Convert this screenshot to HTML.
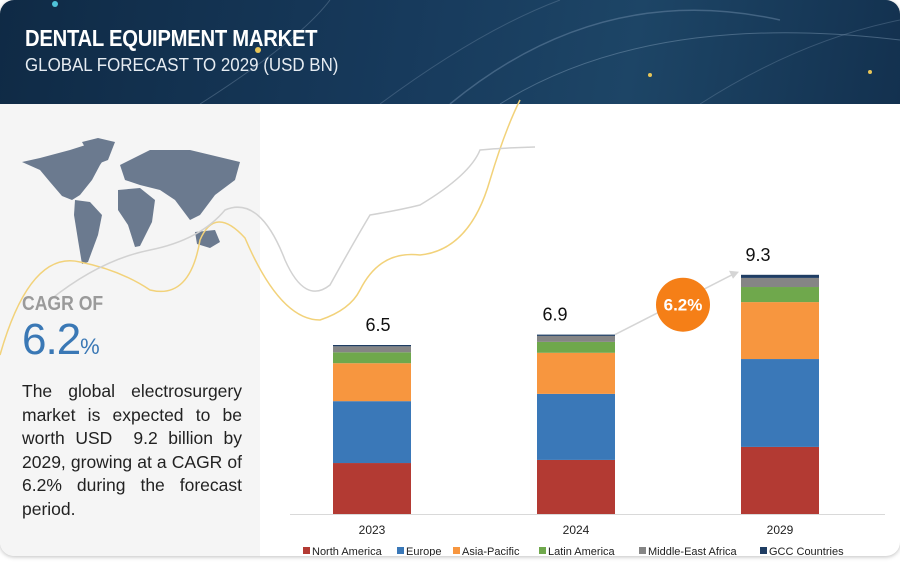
<!DOCTYPE html>
<html><head><meta charset="utf-8"><style>
*{margin:0;padding:0;box-sizing:border-box}
body{width:900px;height:562px;background:#fff;font-family:"Liberation Sans",sans-serif;position:relative;overflow:hidden}
#card{position:absolute;left:0;top:0;width:900px;height:556px;border-radius:14px;overflow:hidden;background:#fff;box-shadow:0 1px 4px rgba(0,0,0,.25)}
#header{position:absolute;left:0;top:0;width:900px;height:104px;background:linear-gradient(100deg,#0f2a45 0%,#173a5c 45%,#1d4566 70%,#13314f 100%)}
#title{position:absolute;left:25px;top:25px;color:#fff;font-size:23px;font-weight:bold;transform:scaleX(.88);transform-origin:left;letter-spacing:-.3px;white-space:nowrap}
#subtitle{position:absolute;left:25px;top:55px;color:#e6ecf2;font-size:18px;transform:scaleX(.94);transform-origin:left;white-space:nowrap}
#left{position:absolute;left:0;top:104px;width:260px;height:452px;background:#f5f5f5}
#cagr-of{position:absolute;left:22px;top:293px;font-size:20px;font-weight:bold;color:#9a9a9a;transform:scaleX(.88);transform-origin:left}
#cagr-val{position:absolute;left:22px;top:315px;font-size:44px;color:#3a78b5;letter-spacing:-1px}
#cagr-val span{font-size:22px;letter-spacing:0}
#desc{position:absolute;left:22px;top:380px;width:220px;font-size:17.5px;line-height:23.5px;color:#222;text-align:justify}
svg{position:absolute;left:0;top:0}
</style></head><body>
<div id="card">
<div id="header">
<svg width="900" height="104">
<path d="M450 104 Q600 -20 780 20" stroke="#6c8aa8" stroke-width="1.5" fill="none" opacity=".5"/>
<path d="M500 104 Q650 10 900 40" stroke="#8fa9c2" stroke-width="1" fill="none" opacity=".4"/>
<path d="M200 104 Q300 40 330 0" stroke="#7891ab" stroke-width="1" fill="none" opacity=".4"/>
<path d="M380 104 Q480 30 560 0" stroke="#7891ab" stroke-width="1" fill="none" opacity=".35"/>
<path d="M700 104 Q800 40 900 20" stroke="#7891ab" stroke-width="1" fill="none" opacity=".35"/>
<circle cx="258" cy="50" r="3" fill="#e8c558"/><circle cx="55" cy="4" r="3" fill="#4fc3d9"/>
<circle cx="650" cy="75" r="2" fill="#e8c558"/><circle cx="870" cy="72" r="2" fill="#e8c558"/>
</svg>
<div id="title">DENTAL EQUIPMENT MARKET</div>
<div id="subtitle">GLOBAL FORECAST TO 2029 (USD BN)</div>
</div>
<div id="left"></div>
<svg width="900" height="556">
<g fill="#6b7a8f">
<path d="M22 162 L40 158 L70 150 L95 142 L110 150 L100 165 L92 180 L80 195 L72 200 L62 196 L50 182 L40 170 Z"/>
<path d="M82 142 L98 138 L115 142 L108 160 L95 165 Z"/>
<path d="M75 200 L90 202 L102 215 L98 235 L88 262 L82 264 L78 240 L74 215 Z"/>
<path d="M120 165 L150 150 L190 150 L240 162 L235 180 L215 195 L200 215 L190 220 L175 200 L160 190 L140 185 L125 180 Z"/>
<path d="M118 190 L140 188 L155 200 L152 222 L140 246 L135 247 L128 225 L118 210 Z"/>
<path d="M195 232 L215 230 L220 242 L210 248 L197 244 Z"/>
</g>
<path d="M0 355 Q30 250 80 262 Q120 270 150 290 Q190 300 200 240 Q215 205 245 238 Q280 320 320 320 Q350 310 360 290 Q380 250 420 255 Q470 250 490 180 Q505 130 520 100" stroke="#f2d27a" stroke-width="1.5" fill="none"/>
<path d="M50 300 Q100 260 150 250 Q200 240 225 210 Q260 195 285 260 Q305 305 330 285 Q355 240 370 215 Q400 210 420 205 Q470 175 480 150 Q500 148 535 147" stroke="#d2d2d2" stroke-width="1.5" fill="none"/>
</svg>
<div id="cagr-of">CAGR OF</div>
<div id="cagr-val">6.2<span>%</span></div>
<div id="desc">The global electrosurgery market is expected to be worth USD&nbsp; 9.2 billion by 2029, growing at a CAGR of 6.2% during the forecast period.</div>
<svg id="chart" width="900" height="562"></svg>
</div>
<script>
const years=["2023","2024","2029"];
const totals=["6.5","6.9","9.3"];
const seriesNames=["North America","Europe","Asia-Pacific","Latin America","Middle-East Africa","GCC Countries"];
const northAmerica=[1.96,2.08,2.58];
const europe=[2.38,2.54,3.38];
const asiaPacific=[1.46,1.58,2.19];
const latinAmerica=[0.42,0.42,0.58];
const middleEastAfrica=[0.23,0.23,0.35];
const gccCountries=[0.05,0.05,0.12];
const cagrText="6.2%";

const series=[northAmerica,europe,asiaPacific,latinAmerica,middleEastAfrica,gccCountries];
const colors=["#b33a33","#3a78b8","#f7963f","#6fa84c","#858585","#1f3d63"];
const labelShift=[6,-21,-22];
const svg=document.getElementById('chart');
const NS="http://www.w3.org/2000/svg";
const baseY=514,pxPerUnit=26,barW=78,firstX=333,stepX=204;
const y=v=>baseY-v*pxPerUnit;
const xPos=i=>firstX+i*stepX;
function mk(t,a){const e=document.createElementNS(NS,t);for(const k in a)e.setAttribute(k,a[k]);svg.appendChild(e);return e;}
const ax=mk('line',{x1:290,x2:885,y1:baseY+0.5,y2:baseY+0.5,stroke:'#d9d9d9','stroke-width':1});


const tops=[];
years.forEach((yr,i)=>{
  let cum=0;
  series.forEach((s,j)=>{
    const r=mk('rect',{x:xPos(i),y:y(cum+s[i]),width:barW,height:s[i]*pxPerUnit,fill:colors[j]});
    
    
    cum+=s[i];
  });
  tops.push(y(cum));
  const t=mk('text',{x:xPos(i)+barW/2,y:baseY+20,'text-anchor':'middle','font-size':12,fill:'#222'});
  t.textContent=yr;
  
  
  const v=mk('text',{x:xPos(i)+barW/2+labelShift[i],y:y(cum)-14,'text-anchor':'middle','font-size':18,fill:'#111'});
  v.textContent=totals[i];
  
  
});
const ar=mk('line',{x1:xPos(1)+barW,y1:tops[1],x2:xPos(2)-5,y2:tops[2]-2,stroke:'#d5d5d5','stroke-width':1.5});


const ah=mk('polygon',{points:`${xPos(2)-2},${tops[2]-3} ${xPos(2)-12},${tops[2]-4} ${xPos(2)-8},${tops[2]+4}`,fill:'#d5d5d5'});


const cx=(xPos(1)+barW+xPos(2))/2+5, cy=(tops[1]+tops[2])/2;
const c=mk('circle',{cx:cx,cy:cy,r:27,fill:'#f57f17'});


const ct=mk('text',{x:cx,y:cy+6,'text-anchor':'middle','font-size':17,'font-weight':'bold',fill:'#fff'});
ct.textContent=cagrText;


const legX=[303,397,453,539,639,760];
seriesNames.forEach((n,j)=>{
  const g=document.createElementNS(NS,'g');svg.appendChild(g);
  
  
  const r=document.createElementNS(NS,'rect');
  r.setAttribute('x',legX[j]);r.setAttribute('y',547);r.setAttribute('width',7);r.setAttribute('height',7);r.setAttribute('fill',colors[j]);
  g.appendChild(r);
  const t=document.createElementNS(NS,'text');
  t.setAttribute('x',legX[j]+9);t.setAttribute('y',555);t.setAttribute('font-size',11);t.setAttribute('fill','#222');
  t.textContent=n;g.appendChild(t);
});
</script>
</body></html>
